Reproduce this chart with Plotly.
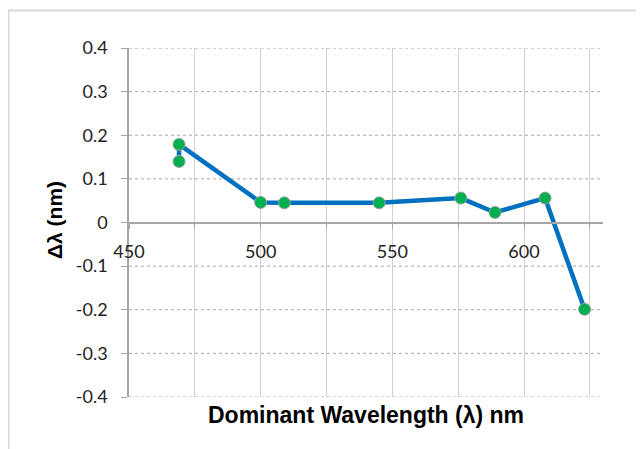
import plotly.graph_objects as go

wavelength = [469, 469, 500, 509, 545, 576, 589, 608, 623]
delta = [0.14, 0.179, 0.046, 0.045, 0.045, 0.056, 0.023, 0.056, -0.199]

x_tickvals = [450, 475, 500, 525, 550, 575, 600, 625]
x_ticktext = ["450", "", "500", "", "550", "", "600", ""]
y_tickvals = [0.4, 0.3, 0.2, 0.1, 0, -0.1, -0.2, -0.3, -0.4]
y_ticktext = ["0.4", "0.3", "0.2", "0.1", "0", "-0.1", "-0.2", "-0.3", "-0.4"]

# page body has an 8px margin, so the figure is sized/placed to compensate
OFF = 8
W, H = 644 - OFF, 449 - OFF
L, R, T, B = 129 - OFF, 41, 48 - OFF, 52
pw, ph = W - L - R, H - T - B


def px_x(sx):
    return (sx - OFF - L) / pw


def px_y(sy):
    return 1 - (sy - OFF - T) / ph


shapes = []
for v in y_tickvals:
    shapes.append(dict(type="line", xref="paper", yref="y", x0=0, x1=1, y0=v, y1=v,
                       line=dict(color="#A6A6A6", width=1, dash="dot"), layer="below"))
shapes.append(dict(type="rect", xref="paper", yref="paper",
                   x0=px_x(8.5), x1=px_x(660), y0=px_y(470), y1=px_y(10.5),
                   line=dict(color="#D9D9D9", width=2), layer="below"))

fig = go.Figure()
fig.add_trace(go.Scatter(
    x=wavelength, y=delta, mode="lines+markers",
    line=dict(color="#0070C0", width=4.5),
    marker=dict(color="#00B050", size=12, line=dict(color="#A0A0A0", width=1)),
    showlegend=False,
))

tick_font = dict(family="Lato, Liberation Sans, sans-serif", size=18, color="#222222")

fig.update_layout(
    width=W, height=H,
    margin=dict(l=L, r=R, t=T, b=B),
    paper_bgcolor="white", plot_bgcolor="white",
    xaxis=dict(
        range=[450, 630], tickmode="array", tickvals=x_tickvals, ticktext=x_ticktext,
        showgrid=True, gridcolor="#D0D0D0", gridwidth=1,
        showline=True, linecolor="#A6A6A6", linewidth=1.5,
        ticks="outside", ticklen=6, tickcolor="#A6A6A6",
        anchor="free", position=0.5, zeroline=False,
        tickfont=tick_font, ticklabelstandoff=7,
    ),
    yaxis=dict(
        range=[-0.4, 0.4], tickmode="array", tickvals=y_tickvals, ticktext=y_ticktext,
        showgrid=False, zeroline=False,
        showline=True, linecolor="#A6A6A6", linewidth=1.5,
        ticks="outside", ticklen=6, tickcolor="#A6A6A6",
        tickfont=tick_font, ticklabelstandoff=10,
    ),
    annotations=[
        dict(text="<b>Dominant Wavelength (λ) nm</b>", xref="paper", yref="paper",
             x=px_x(366), y=px_y(415), xanchor="center", yanchor="middle",
             showarrow=False,
             font=dict(family="Liberation Sans, Arial, sans-serif", size=23, color="#000000")),
        dict(text="<b>Δλ (nm)</b>", xref="paper", yref="paper",
             x=px_x(54), y=px_y(220), xanchor="center", yanchor="middle",
             textangle=-90, showarrow=False,
             font=dict(family="Liberation Sans, Arial, sans-serif", size=21, color="#000000")),
    ],
    shapes=shapes,
)

fig.write_html("out.html")
